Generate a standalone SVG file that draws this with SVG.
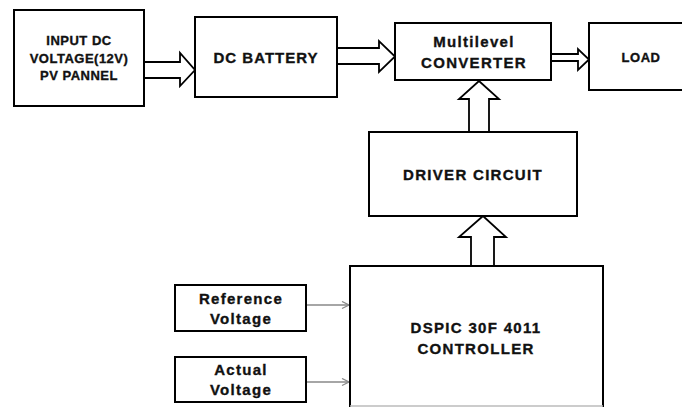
<svg xmlns="http://www.w3.org/2000/svg" width="682" height="407" viewBox="0 0 682 407">
<defs>
<style>
.box{fill:#fff;stroke:#000;stroke-width:2}
.harrow{fill:#fff;stroke:#000;stroke-width:1.8;stroke-linejoin:miter}
.t{font-family:"Liberation Sans",Arial,sans-serif;font-weight:bold;font-size:15px;letter-spacing:1.3px;text-anchor:middle;fill:#111;stroke:#111;stroke-width:0.35}
.s{font-size:13px;letter-spacing:0.5px}
.g{stroke:#888;stroke-width:1.5;fill:none}
</style>
<marker id="ga" markerWidth="10" markerHeight="10" refX="8" refY="4" orient="auto" markerUnits="userSpaceOnUse">
<path d="M1,0.5 L8,4 L1,7.5" fill="none" stroke="#888" stroke-width="1.3"/>
</marker>
</defs>
<rect width="682" height="407" fill="#fff"/>
<g id="connectors">
<polygon class="harrow" points="144,62 180,62 180,53 195,70 180,86 180,78 144,78"/>
<polygon class="harrow" points="337,48 379,48 379,41 395,56.5 379,72 379,64 337,64"/>
<polygon class="harrow" points="551,54 578,54 578,49 589,59.5 578,70 578,61 551,61"/>
<polygon class="harrow" points="469,132 469,99 459,99 479,81 499,99 489,99 489,132"/>
<polygon class="harrow" points="471,268 471,237 459,237 483,216 506,237 494,237 494,268"/>
<line x1="471" y1="268" x2="494" y2="268" stroke="#000" stroke-width="3"/>
<line class="g" x1="306" y1="305" x2="349" y2="305" marker-end="url(#ga)"/>
<line class="g" x1="306" y1="382" x2="349" y2="382" marker-end="url(#ga)"/>
</g>
<g id="input">
<rect class="box" x="14" y="10" width="130" height="96"/>
<text class="t s" x="79" y="45">INPUT DC</text>
<text class="t s" x="79" y="62.5">VOLTAGE(12V)</text>
<text class="t s" x="79" y="80">PV PANNEL</text>
</g>
<g id="battery">
<rect class="box" x="195" y="17" width="142" height="80"/>
<text class="t" x="266" y="63" style="letter-spacing:1px">DC BATTERY</text>
</g>
<g id="converter">
<rect class="box" x="395" y="23" width="156" height="57"/>
<text class="t" x="474" y="47">Multilevel</text>
<text class="t" x="474" y="68">CONVERTER</text>
</g>
<g id="load">
<rect class="box" x="589" y="23" width="100" height="67"/>
<text class="t s" x="641" y="61.5">LOAD</text>
</g>
<g id="driver">
<rect class="box" x="369" y="132" width="208" height="84"/>
<text class="t" x="473" y="180">DRIVER CIRCUIT</text>
</g>
<g id="controller">
<path d="M350,407 L350,266 L603,266 L603,407" class="box"/>
<line x1="350" y1="406" x2="603" y2="406" stroke="#bbb" stroke-width="1.5"/>
<text class="t" x="476" y="333">DSPIC 30F 4011</text>
<text class="t" x="476" y="354">CONTROLLER</text>
</g>
<g id="reference">
<rect class="box" x="175" y="285" width="131" height="46"/>
<text class="t" x="241" y="304">Reference</text>
<text class="t" x="241" y="324">Voltage</text>
</g>
<g id="actual">
<rect class="box" x="175" y="357" width="131" height="45"/>
<text class="t" x="241" y="375">Actual</text>
<text class="t" x="241" y="395">Voltage</text>
</g>
</svg>
